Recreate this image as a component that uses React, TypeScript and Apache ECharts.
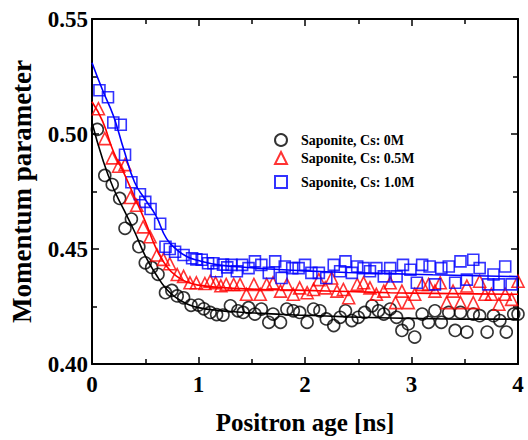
import React, { useEffect, useRef } from "react";
import * as echarts from "echarts";

// Measured points: [positron age (ns), momentum parameter]
const cs0M: [number, number][] = [
  [0.05, 0.502], [0.12, 0.482], [0.19, 0.478], [0.26, 0.472], [0.31, 0.459], [0.37, 0.463],
  [0.44, 0.451], [0.5, 0.444], [0.56, 0.442], [0.62, 0.439], [0.69, 0.431], [0.75, 0.432],
  [0.8, 0.4296], [0.86, 0.4288], [0.93, 0.4255], [1.0, 0.4256], [1.05, 0.424], [1.11, 0.4224],
  [1.17, 0.4215], [1.23, 0.4213], [1.3, 0.4253], [1.37, 0.4231], [1.42, 0.4224], [1.47, 0.4245],
  [1.53, 0.4217], [1.59, 0.4239], [1.66, 0.4181], [1.7, 0.4217], [1.77, 0.4181], [1.83, 0.4239],
  [1.89, 0.4231], [1.95, 0.4224], [2.02, 0.4181], [2.08, 0.4239], [2.14, 0.4231], [2.2, 0.4196],
  [2.27, 0.4167], [2.33, 0.4203], [2.38, 0.4231], [2.44, 0.4189], [2.5, 0.4203], [2.56, 0.4224],
  [2.63, 0.4253], [2.69, 0.4231], [2.74, 0.4217], [2.8, 0.4239], [2.86, 0.4203], [2.91, 0.4146],
  [2.97, 0.4174], [3.03, 0.4117], [3.1, 0.4217], [3.16, 0.4181], [3.22, 0.4231], [3.28, 0.4181],
  [3.35, 0.4224], [3.41, 0.4146], [3.46, 0.4224], [3.52, 0.4139], [3.58, 0.4217], [3.64, 0.421],
  [3.71, 0.4139], [3.77, 0.421], [3.83, 0.4189], [3.89, 0.4139], [3.96, 0.4217], [4.0, 0.4217],
];

const cs05M: [number, number][] = [
  [0.06, 0.511], [0.12, 0.498], [0.19, 0.4896], [0.25, 0.486], [0.31, 0.4867], [0.36, 0.4724],
  [0.42, 0.469], [0.48, 0.4596], [0.545, 0.4553], [0.61, 0.4474], [0.67, 0.4455], [0.73, 0.4436],
  [0.8, 0.4389], [0.86, 0.4381], [0.92, 0.4353], [0.98, 0.4353], [1.06, 0.435], [1.11, 0.436],
  [1.16, 0.4353], [1.21, 0.434], [1.26, 0.4346], [1.33, 0.4346], [1.39, 0.4346], [1.45, 0.4303],
  [1.52, 0.4346], [1.58, 0.4303], [1.64, 0.4346], [1.7, 0.4353], [1.77, 0.4317], [1.83, 0.4346],
  [1.89, 0.4303], [1.95, 0.4331], [2.02, 0.431], [2.08, 0.4324], [2.13, 0.4367], [2.19, 0.4331],
  [2.25, 0.4374], [2.3, 0.4317], [2.36, 0.4324], [2.41, 0.4288], [2.49, 0.4346], [2.55, 0.4353],
  [2.61, 0.4331], [2.67, 0.4303], [2.74, 0.4317], [2.8, 0.4353], [2.85, 0.4267], [2.91, 0.4317],
  [2.97, 0.4267], [3.03, 0.4303], [3.1, 0.4346], [3.16, 0.4346], [3.22, 0.4317], [3.27, 0.4353],
  [3.33, 0.4267], [3.39, 0.4317], [3.46, 0.4267], [3.52, 0.4339], [3.58, 0.4267], [3.64, 0.436],
  [3.69, 0.4303], [3.75, 0.4303], [3.82, 0.426], [3.88, 0.4303], [3.94, 0.4281], [4.0, 0.436],
];

const cs10M: [number, number][] = [
  [0.07, 0.519], [0.15, 0.516], [0.2, 0.505], [0.27, 0.504], [0.31, 0.491], [0.37, 0.479],
  [0.45, 0.4738], [0.5, 0.4705], [0.55, 0.4674], [0.64, 0.461], [0.69, 0.451], [0.73, 0.45],
  [0.78, 0.4488], [0.86, 0.4474], [0.94, 0.446], [0.98, 0.4455], [1.03, 0.4453], [1.09, 0.4438],
  [1.14, 0.4438], [1.17, 0.4403], [1.23, 0.4432], [1.27, 0.442], [1.31, 0.4431], [1.36, 0.4403],
  [1.41, 0.4431], [1.47, 0.4417], [1.53, 0.4446], [1.59, 0.4431], [1.66, 0.4396], [1.72, 0.4446],
  [1.78, 0.4374], [1.81, 0.4424], [1.88, 0.4417], [1.94, 0.4417], [2.0, 0.4431], [2.06, 0.4396],
  [2.13, 0.4396], [2.2, 0.4374], [2.27, 0.4431], [2.33, 0.4403], [2.38, 0.4446], [2.44, 0.4396],
  [2.49, 0.4424], [2.55, 0.4417], [2.61, 0.4403], [2.67, 0.4417], [2.74, 0.4381], [2.8, 0.4417],
  [2.86, 0.4381], [2.92, 0.4431], [2.99, 0.441], [3.05, 0.4353], [3.1, 0.4431], [3.17, 0.4424],
  [3.22, 0.4346], [3.28, 0.4417], [3.35, 0.4424], [3.41, 0.4353], [3.46, 0.4446], [3.52, 0.4367],
  [3.58, 0.4453], [3.64, 0.4417], [3.72, 0.4346], [3.77, 0.4389], [3.82, 0.4346], [3.88, 0.4424],
  [3.94, 0.4346],
];

// Fitted curves
const fitT = [0, 0.1, 0.2, 0.3, 0.4, 0.5, 0.6, 0.7, 0.8, 0.9, 1.0, 1.2, 1.4, 1.6, 1.8, 2.0, 2.4, 2.8, 3.2, 3.6, 4.0];
const fit0M = [0.505, 0.489, 0.4765, 0.467, 0.4575, 0.447, 0.439, 0.4325, 0.4285, 0.426, 0.4245, 0.4232, 0.4225, 0.422, 0.4215, 0.4212, 0.4205, 0.42, 0.4197, 0.4195, 0.4195];
const fit05M = [0.514, 0.5055, 0.4925, 0.483, 0.4725, 0.462, 0.4505, 0.4425, 0.438, 0.4355, 0.4343, 0.4333, 0.4328, 0.4324, 0.4322, 0.432, 0.4315, 0.431, 0.4307, 0.4305, 0.4303];
const fit10M = [0.531, 0.519, 0.508, 0.493, 0.479, 0.4715, 0.4645, 0.4545, 0.4495, 0.4465, 0.445, 0.443, 0.4422, 0.4415, 0.441, 0.4405, 0.4398, 0.4393, 0.4388, 0.4384, 0.438];

const seriesNames = ["Saponite, Cs: 0M", "Saponite, Cs: 0.5M", "Saponite, Cs: 1.0M"];
const seriesColors = ["#000000", "#ff0000", "#0000ff"];

const FONT = "'Liberation Serif', 'Times New Roman', serif";

export default function App() {
  const ref = useRef<HTMLDivElement>(null);

  useEffect(() => {
    if (!ref.current) return;
    const chart = echarts.init(ref.current, null, { renderer: "svg" });

    const axisLine = { show: true, onZero: false, lineStyle: { color: "#000", width: 2 } };
    const axisTick = { show: true, inside: true, length: 7, lineStyle: { color: "#000", width: 1.5 } };
    const minorTick = { show: true, splitNumber: 2, length: 5, lineStyle: { color: "#000", width: 1.5 } };
    const labelStyle = { fontFamily: FONT, fontWeight: "bold" as const, fontSize: 23, color: "#000" };
    const nameStyle = { fontFamily: FONT, fontWeight: "bold" as const, color: "#000" };

    const pts = [cs0M, cs05M, cs10M];
    const fits = [fit0M, fit05M, fit10M];
    const symbols = ["circle", "triangle", "rect"];
    const sizes = [12, 12, 11];

    const scatter = pts.map((d, i) => ({
      name: seriesNames[i],
      type: "scatter",
      data: d,
      symbol: symbols[i],
      symbolSize: sizes[i],
      itemStyle: { color: "rgba(0,0,0,0)", borderColor: seriesColors[i], borderWidth: 1.6 },
      z: 2,
    }));
    const lines = fits.map((f, i) => ({
      name: seriesNames[i] + " fit",
      type: "line",
      data: fitT.map((t, k) => [t, f[k]]),
      showSymbol: false,
      smooth: true,
      lineStyle: { color: seriesColors[i], width: 1.6 },
      z: 3,
    }));

    const legendTops = [133, 151, 175];

    chart.setOption({
      animation: false,
      backgroundColor: "#fff",
      grid: { left: 92, right: 10, top: 19, bottom: 71 },
      xAxis: [
        {
          type: "value", min: 0, max: 4, interval: 1, position: "bottom",
          axisLine, axisTick, minorTick, splitLine: { show: false }, minorSplitLine: { show: false },
          axisLabel: { ...labelStyle, margin: 9 },
          name: "Positron age [ns]", nameLocation: "middle", nameGap: 46,
          nameTextStyle: { ...nameStyle, fontSize: 25 },
        },
        {
          type: "value", min: 0, max: 4, interval: 1, position: "top",
          axisLine, axisTick, minorTick, splitLine: { show: false },
          axisLabel: { show: false },
        },
      ],
      yAxis: [
        {
          type: "value", min: 0.4, max: 0.55, interval: 0.05, position: "left",
          axisLine, axisTick, minorTick, splitLine: { show: false },
          axisLabel: { ...labelStyle, margin: 4, formatter: (v: number) => v.toFixed(2) },
          name: "Momentum parameter", nameLocation: "middle", nameGap: 57,
          nameTextStyle: { ...nameStyle, fontSize: 27 },
        },
        {
          type: "value", min: 0.4, max: 0.55, interval: 0.05, position: "right",
          axisLine, axisTick, minorTick, splitLine: { show: false },
          axisLabel: { show: false },
        },
      ],
      legend: seriesNames.map((n, i) => ({
        data: [n],
        left: 274,
        top: legendTops[i],
        itemWidth: 12,
        itemHeight: 12,
        itemGap: 0,
        padding: 0,
        textStyle: { fontFamily: FONT, fontWeight: "bold", fontSize: 14, color: "#000", padding: [0, 0, 0, 9] },
      })),
      series: [...scatter, ...lines],
    });

    return () => chart.dispose();
  }, []);

  return (
    <div
      ref={ref}
      style={{ position: "fixed", left: 0, top: 0, width: 528, height: 440 }}
    />
  );
}
